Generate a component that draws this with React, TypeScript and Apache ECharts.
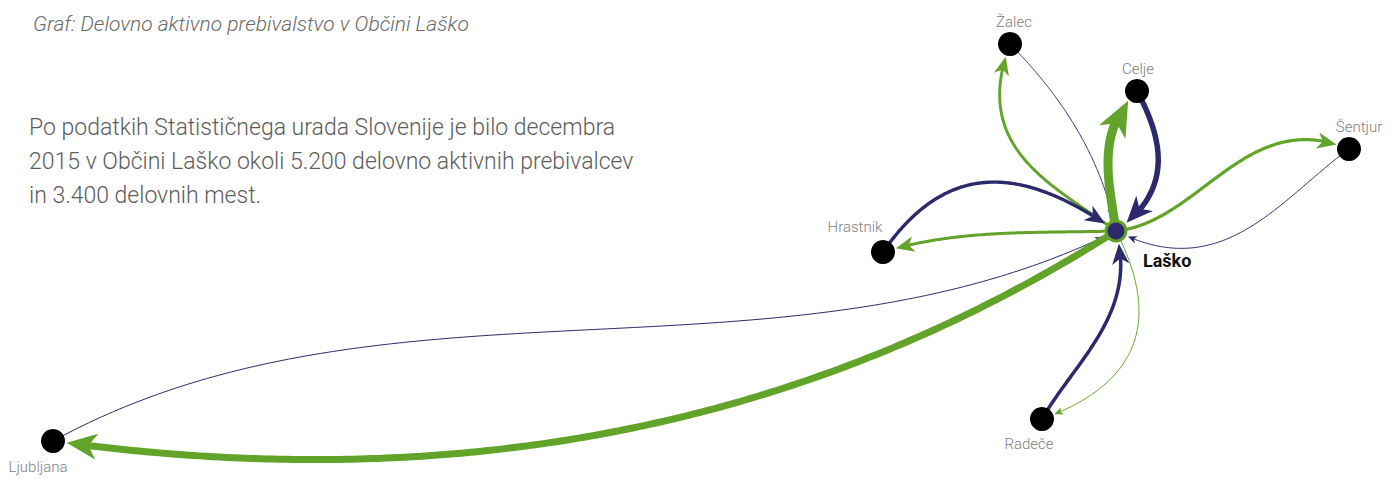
import React, { useEffect, useRef } from "react";
import * as echarts from "echarts";

// ---- data ----
const titleText = "Graf: Delovno aktivno prebivalstvo v Občini Laško";
const introLines = [
  "Po podatkih Statističnega urada Slovenije je bilo decembra",
  "2015 v Občini Laško okoli 5.200 delovno aktivnih prebivalcev",
  "in 3.400 delovnih mest.",
];

const hub = "Laško";
const nodeNames = ["Laško", "Žalec", "Celje", "Šentjur", "Hrastnik", "Radeče", "Ljubljana"];
// layout position of each municipality (layout units)
const nodeX = [1116, 1010, 1137, 1349, 883, 1042, 53];
const nodeY = [231, 44, 91, 149, 252, 419, 441];

// commuter flows (approximate persons)
const linkSource = ["Laško", "Žalec", "Laško", "Celje", "Laško", "Šentjur", "Hrastnik", "Laško", "Radeče", "Laško", "Ljubljana", "Laško"];
const linkTarget = ["Žalec", "Laško", "Celje", "Laško", "Šentjur", "Laško", "Laško", "Hrastnik", "Laško", "Radeče", "Laško", "Ljubljana"];
const linkValue = [290, 60, 900, 550, 320, 60, 340, 300, 350, 60, 50, 700];
// curve bend of the two bezier control points (share of link length)
const linkBend1 = [-0.15, -0.09, -0.1, -0.25, 0.08, -0.1, -0.4, 0.02, 0.05, -0.38, -0.105, -0.13];
const linkBend2 = [-0.4, -0.11, -0.25, -0.35, -0.3, -0.35, -0.28, 0.07, 0.25, -0.38, 0.09, -0.115];

// ---- style ----
const GREEN = "#62a329";
const NAVY = "#2d2a6c";
const NODE_R = 12;
const FONT = "Roboto, 'Noto Sans', sans-serif";

const labelStyle: Record<string, any> = {
  "Laško": { offset: [27, 29], align: "left", fontWeight: "bold", color: "#111", fontSize: 18 },
  "Žalec": { offset: [4, -22] },
  "Celje": { offset: [1, -22] },
  "Šentjur": { offset: [10, -22] },
  "Hrastnik": { offset: [-28, -25] },
  "Radeče": { offset: [-13, 25] },
  "Ljubljana": { offset: [-15, 26] },
};

function renderLink(params: any, api: any) {
  const i = params.dataIndex;
  const p0 = api.coord([api.value(0), api.value(1)]);
  const p3 = api.coord([api.value(2), api.value(3)]);
  const value = api.value(4);
  const w = Math.max(1, value / 100);
  const color = linkSource[i] === hub ? GREEN : NAVY;
  const dx = p3[0] - p0[0];
  const dy = p3[1] - p0[1];
  const L = Math.hypot(dx, dy);
  const nx = -dy / L;
  const ny = dx / L;
  const b1 = linkBend1[i] * L;
  const b2 = linkBend2[i] * L;
  const c1 = [p0[0] + dx / 3 + nx * b1, p0[1] + dy / 3 + ny * b1];
  const c2 = [p0[0] + (2 * dx) / 3 + nx * b2, p0[1] + (2 * dy) / 3 + ny * b2];
  const N = 500;
  const pts: number[][] = [];
  for (let k = 0; k <= N; k++) {
    const t = k / N;
    const u = 1 - t;
    const a = u * u * u, b = 3 * u * u * t, c = 3 * u * t * t, d = t * t * t;
    pts.push([
      a * p0[0] + b * c1[0] + c * c2[0] + d * p3[0],
      a * p0[1] + b * c1[1] + c * c2[1] + d * p3[1],
    ]);
  }
  const len = 13 * Math.sqrt(w) - 4;
  const hw = (len * 0.85) / 2;
  const rTip = NODE_R + 1;
  const dist = (p: number[]) => Math.hypot(p[0] - p3[0], p[1] - p3[1]);
  const findIdx = (r: number) => {
    for (let k = N; k >= 0; k--) if (dist(pts[k]) >= r) return k;
    return 0;
  };
  const kTip = findIdx(rTip);
  const kBack = findIdx(rTip + len);
  const kLine = findIdx(rTip + len * 0.6);
  const tip = pts[kTip];
  const back = pts[kBack];
  let ux = tip[0] - back[0];
  let uy = tip[1] - back[1];
  const ul = Math.hypot(ux, uy) || 1;
  ux /= ul;
  uy /= ul;
  const bx = tip[0] - ux * len;
  const by = tip[1] - uy * len;
  const notch = [tip[0] - ux * len * 0.72, tip[1] - uy * len * 0.72];
  const poly = [tip, [bx - uy * hw, by + ux * hw], notch, [bx + uy * hw, by - ux * hw]];
  const linePts: number[][] = [];
  for (let k = 0; k <= kLine; k += 3) linePts.push(pts[k]);
  linePts.push(pts[kLine]);
  return {
    type: "group",
    children: [
      {
        type: "polyline",
        shape: { points: linePts },
        style: { stroke: color, lineWidth: w, fill: null, lineJoin: "round" },
      },
      { type: "polygon", shape: { points: poly }, style: { fill: color } },
    ],
  };
}

export default function App() {
  const ref = useRef<HTMLDivElement>(null);
  useEffect(() => {
    if (!ref.current) return;
    const chart = echarts.init(ref.current, null, { renderer: "svg" });
    const idx = (name: string) => nodeNames.indexOf(name);
    const linkData = linkValue.map((v, i) => {
      const s = idx(linkSource[i]);
      const t = idx(linkTarget[i]);
      return [nodeX[s], nodeY[s], nodeX[t], nodeY[t], v];
    });
    const nodeData = nodeNames.map((name, i) => {
      const isHub = name === hub;
      const ls = labelStyle[name] || {};
      return {
        name,
        value: [nodeX[i], nodeY[i]],
        symbolSize: isHub ? 20 : NODE_R * 2,
        itemStyle: isHub
          ? { color: NAVY, borderColor: GREEN, borderWidth: 3, opacity: 1 }
          : { color: "#000", opacity: 1 },
        label: {
          show: true,
          position: "inside",
          formatter: name,
          align: ls.align || "center",
          verticalAlign: "middle",
          offset: ls.offset || [0, 0],
          fontFamily: FONT,
          fontSize: ls.fontSize || 15,
          fontWeight: ls.fontWeight || 300,
          color: ls.color || "#808080",
        },
      };
    });
    chart.setOption({
      animation: false,
      backgroundColor: "#ffffff",
      title: {
        text: titleText,
        left: 28,
        top: 8,
        textStyle: {
          fontFamily: FONT,
          fontStyle: "italic",
          fontWeight: 300,
          fontSize: 21,
          color: "#6a6a6a",
        },
      },
      graphic: [
        {
          type: "text",
          left: 29,
          top: 110,
          style: {
            text: introLines.join("\n"),
            font: `300 23px ${FONT}`,
            fill: "#5c5c5c",
            lineHeight: 34,
          },
        },
      ],
      grid: { left: 0, right: 0, top: 0, bottom: 0 },
      xAxis: { type: "value", min: 0, max: 1400, show: false },
      yAxis: { type: "value", min: 0, max: 479, inverse: true, show: false },
      series: [
        {
          type: "custom",
          z: 1,
          silent: true,
          renderItem: renderLink,
          encode: { x: [0, 2], y: [1, 3] },
          data: linkData,
          clip: false,
        },
        {
          type: "scatter",
          z: 3,
          silent: true,
          symbol: "circle",
          data: nodeData,
          itemStyle: { opacity: 1 },
          emphasis: { disabled: true },
        },
      ],
    });
    return () => chart.dispose();
  }, []);
  return (
    <div
      ref={ref}
      style={{ position: "fixed", left: 0, top: 0, width: 1400, height: 479 }}
    />
  );
}
